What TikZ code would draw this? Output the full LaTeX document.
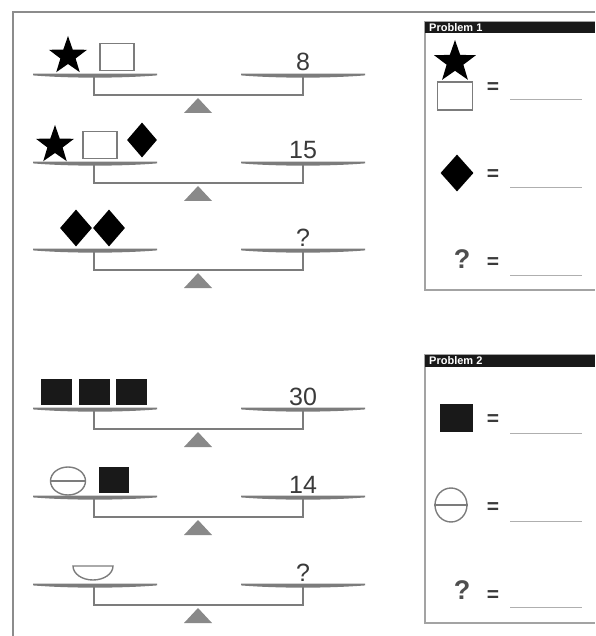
\documentclass[tikz,border=0pt]{standalone}
\usepackage{fontspec}
\setmainfont{Liberation Sans}
\usetikzlibrary{shapes.geometric}
\definecolor{scalegray}{HTML}{7C7C7C}
\definecolor{framegray}{HTML}{8C8C8C}
\definecolor{ink}{HTML}{3A3A3A}

\begin{document}
\begin{tikzpicture}[x=1pt, y=-1pt,
        pan/.style={fill=scalegray},
        beam/.style={draw=scalegray, line width=1.6pt},
        fulcrum/.style={fill=scalegray!90},
        weight/.style={font=\fontsize{25}{25}\selectfont, text=ink, inner sep=0pt},
        starw/.style={star, star points=5, star point ratio=2.5, fill=black,
                      inner sep=0pt, minimum size=#1},
        gem/.style={diamond, fill=black, inner sep=0pt, minimum width=30, minimum height=35},
        openbox/.style={rectangle, draw=scalegray, line width=1.6pt, fill=white,
                        inner sep=0pt, minimum width=34, minimum height=27},
        block/.style={rectangle, fill=black!90, inner sep=0pt, minimum width=31, minimum height=26},
        ring/.style={ellipse, draw=scalegray, line width=1.4pt, inner sep=0pt},
        frame/.style={draw=framegray, line width=2pt},
        panel/.style={draw=framegray!80, line width=1.6pt},
        header/.style={font=\fontsize{11}{11}\selectfont\bfseries, text=white, inner sep=0pt},
        equals/.style={font=\fontsize{21}{21}\selectfont\bfseries, text=ink, inner sep=0pt},
        answer/.style={font=\fontsize{27}{27}\selectfont\bfseries, text=ink!90, inner sep=0pt},
        blank/.style={draw=framegray!70, line width=1pt},
    ]
    \useasboundingbox (0,0) rectangle (595,636);

    % outer frame
    \draw[frame] (13,636) -- (13,12) -- (595,12);

    % balances
    \foreach \i/\y/\val in {1/75/8, 2/163/15, 3/250/?, 4/409/30, 5/497/14, 6/585/?}{
        \fill[pan] (33,\y-1.4) -- (157,\y-1.4) -- (157,\y+0.4)
            .. controls (120,\y+3.4) and (70,\y+3.4) .. (33,\y+0.4) -- cycle;
        \fill[pan] (241,\y-1.4) -- (365,\y-1.4) -- (365,\y+0.4)
            .. controls (328,\y+3.4) and (278,\y+3.4) .. (241,\y+0.4) -- cycle;
        \draw[beam] (94,\y) -- (94,\y+20) -- (303,\y+20) -- (303,\y);
        \fill[fulcrum] (198,\y+23) -- (212,\y+38) -- (184,\y+38) -- cycle;
        \node[weight, anchor=base] (w\i) at (303,\y-4) {\val};
    }

    % problem 1 left sides
    \node[starw=40] (st1) at (68,56) {};
    \node[openbox] (sq1) at (117,57) {};
    \node[starw=40] (st2) at (55,145) {};
    \node[openbox] (sq2) at (100,145) {};
    \node[gem] (dm2) at (142,140) {};
    \node[gem, minimum width=32, minimum height=37] (dm3a) at (76,228) {};
    \node[gem, minimum width=32, minimum height=37] (dm3b) at (109,228) {};

    % problem 2 left sides
    \node[block] (bk4a) at (56,392) {};
    \node[block] (bk4b) at (94,392) {};
    \node[block] (bk4c) at (131,392) {};
    \node[ring, minimum width=35, minimum height=28] (rg5) at (68,481) {};
    \draw[scalegray, line width=1.4pt] (rg5.west) -- (rg5.east);
    \node[block, minimum width=30] (bk5) at (114,480) {};
    \draw[scalegray, line width=1.4pt] (73,566) -- (113,566)
        arc[start angle=0, end angle=180, x radius=20, y radius=14] -- cycle;

    % panel: problem 1
    \draw[panel] (595,22) -- (425,22) -- (425,290) -- (595,290);
    \fill[black!90] (425,22) rectangle (595,33);
    \node[header, anchor=west] (h1) at (429,27.5) {Problem 1};
    \node[starw=44] (pst) at (455,62) {};
    \node[openbox, minimum width=35, minimum height=28] (psq) at (455,96) {};
    \node[gem, minimum width=33, minimum height=37] (pdm) at (457,173) {};
    \node[answer] (pq1) at (462,259) {?};
    \foreach \j/\y/\ly in {1/88/100, 2/175/188, 3/263/275}{
        \node[equals] (eqa\j) at (493,\y) {=};
        \coordinate (la\j) at (510,\ly);
        \coordinate (ra\j) at (582,\ly);
        \draw[blank] (la\j) -- (ra\j);
    }

    % panel: problem 2
    \draw[panel] (595,355) -- (425,355) -- (425,623) -- (595,623);
    \fill[black!90] (425,355) rectangle (595,367);
    \node[header, anchor=west] (h2) at (429,361) {Problem 2};
    \node[block, minimum width=33, minimum height=28] (pbk) at (456,418) {};
    \node[ring, minimum width=32, minimum height=34] (prg) at (451,505) {};
    \draw[scalegray, line width=1.4pt] (prg.west) -- (prg.east);
    \node[answer] (pq2) at (462,590) {?};
    \foreach \j/\y/\ly in {1/420/433, 2/508/521, 3/596/607}{
        \node[equals] (eqb\j) at (493,\y) {=};
        \coordinate (lb\j) at (510,\ly);
        \coordinate (rb\j) at (582,\ly);
        \draw[blank] (lb\j) -- (rb\j);
    }
\end{tikzpicture}
\end{document}
